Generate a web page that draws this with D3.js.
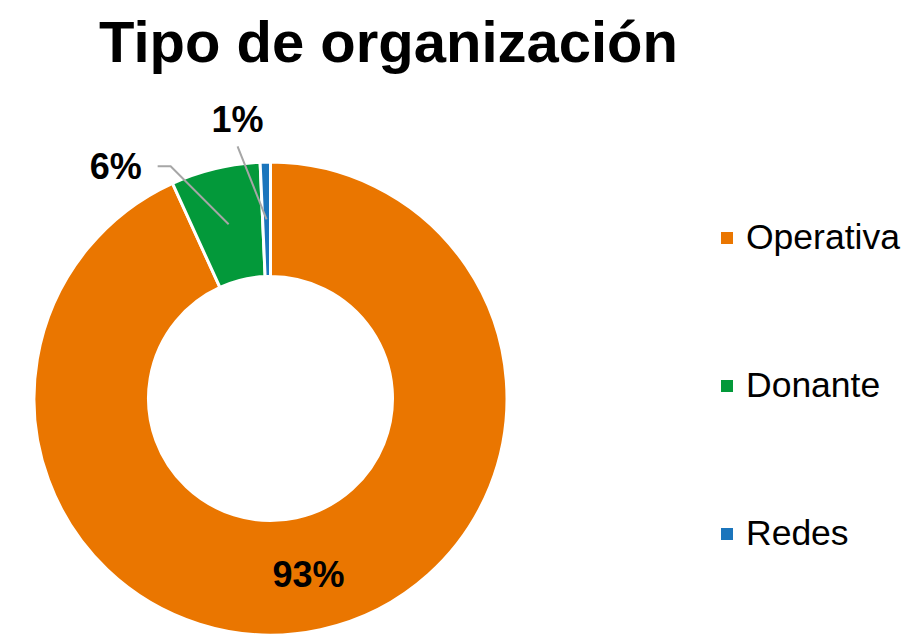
<!DOCTYPE html>
<html>
<head>
<meta charset="utf-8" />
<script src="https://cdn.jsdelivr.net/npm/d3@7/dist/d3.min.js"></script>
<style>
	body { margin: 0; background: #fff; }
	.title { font-family: "Liberation Sans", Arial, sans-serif; font-weight: bold; font-size: 58px; fill: #000; }
	.pct { font-family: "Liberation Sans", Arial, sans-serif; font-weight: bold; font-size: 36px; fill: #000; }
	.legtext { font-family: "Liberation Sans", Arial, sans-serif; font-size: 35.5px; fill: #000; }
	.leader { stroke: #a6a6a6; stroke-width: 2; fill: none; }
</style>
</head>
<body>
<script>
	// data
	var categories = ["Operativa", "Donante", "Redes"];
	var values = [93.2, 6.1, 0.7];
	var labels = ["93%", "6%", "1%"];
	var colors = ["#ea7600", "#03993a", "#1b75bc"];

	var width = 918, height = 635;
	var cx = 270.5, cy = 398.5;
	var outerR = 236.5, innerR = 122;

	// label placement (offset from slice centroid); null = label inside slice
	var labelOffsets = [null, { dx: -58, dy: -58, elbow: 13 }, { dx: -29, dy: -73 }];

	var svg = d3.select("body").append("svg")
		.attr("width", width)
		.attr("height", height);

	svg.append("text")
		.attr("class", "title")
		.attr("x", 388.5)
		.attr("y", 62)
		.attr("text-anchor", "middle")
		.text("Tipo de organización");

	var data = categories.map(function(c, i) { return { name: c, value: values[i], label: labels[i], color: colors[i], off: labelOffsets[i] }; });

	var pie = d3.pie().sort(null).value(function(d) { return d.value; });
	var arc = d3.arc().innerRadius(innerR).outerRadius(outerR);

	var g = svg.append("g").attr("transform", "translate(" + cx + "," + cy + ")");

	var arcs = pie(data);

	g.selectAll("path.slice")
		.data(arcs)
		.enter().append("path")
		.attr("class", "slice")
		.attr("d", arc)
		.attr("fill", function(d) { return d.data.color; })
		.attr("stroke", "#fff")
		.attr("stroke-width", 3)
		.attr("stroke-linejoin", "miter");

	arcs.forEach(function(d) {
		var c = arc.centroid(d);
		var o = d.data.off;
		if (!o) {
			g.append("text")
				.attr("class", "pct")
				.attr("x", c[0])
				.attr("y", c[1] + 13)
				.attr("text-anchor", "middle")
				.text(d.data.label);
			return;
		}
		var tx = c[0] + o.dx, ty = c[1] + o.dy;
		var pts = [[c[0], c[1]], [tx, ty]];
		if (o.elbow) pts.push([tx - o.elbow, ty]);
		g.append("path")
			.attr("class", "leader")
			.attr("d", d3.line()(pts));
		if (o.elbow) {
			g.append("text")
				.attr("class", "pct")
				.attr("x", tx - o.elbow - 16)
				.attr("y", ty + 13)
				.attr("text-anchor", "end")
				.text(d.data.label);
		} else {
			g.append("text")
				.attr("class", "pct")
				.attr("x", tx)
				.attr("y", ty - 14)
				.attr("text-anchor", "middle")
				.text(d.data.label);
		}
	});

	// legend
	var ly = d3.scalePoint().domain(categories).range([238, 534]);
	var leg = svg.append("g").selectAll("g")
		.data(data)
		.enter().append("g")
		.attr("transform", function(d) { return "translate(721," + ly(d.name) + ")"; });

	leg.append("rect")
		.attr("x", 0)
		.attr("y", -6)
		.attr("width", 12)
		.attr("height", 12)
		.attr("fill", function(d) { return d.color; });

	leg.append("text")
		.attr("class", "legtext")
		.attr("x", 25)
		.attr("y", 11)
		.text(function(d) { return d.name; });
</script>
</body>
</html>
